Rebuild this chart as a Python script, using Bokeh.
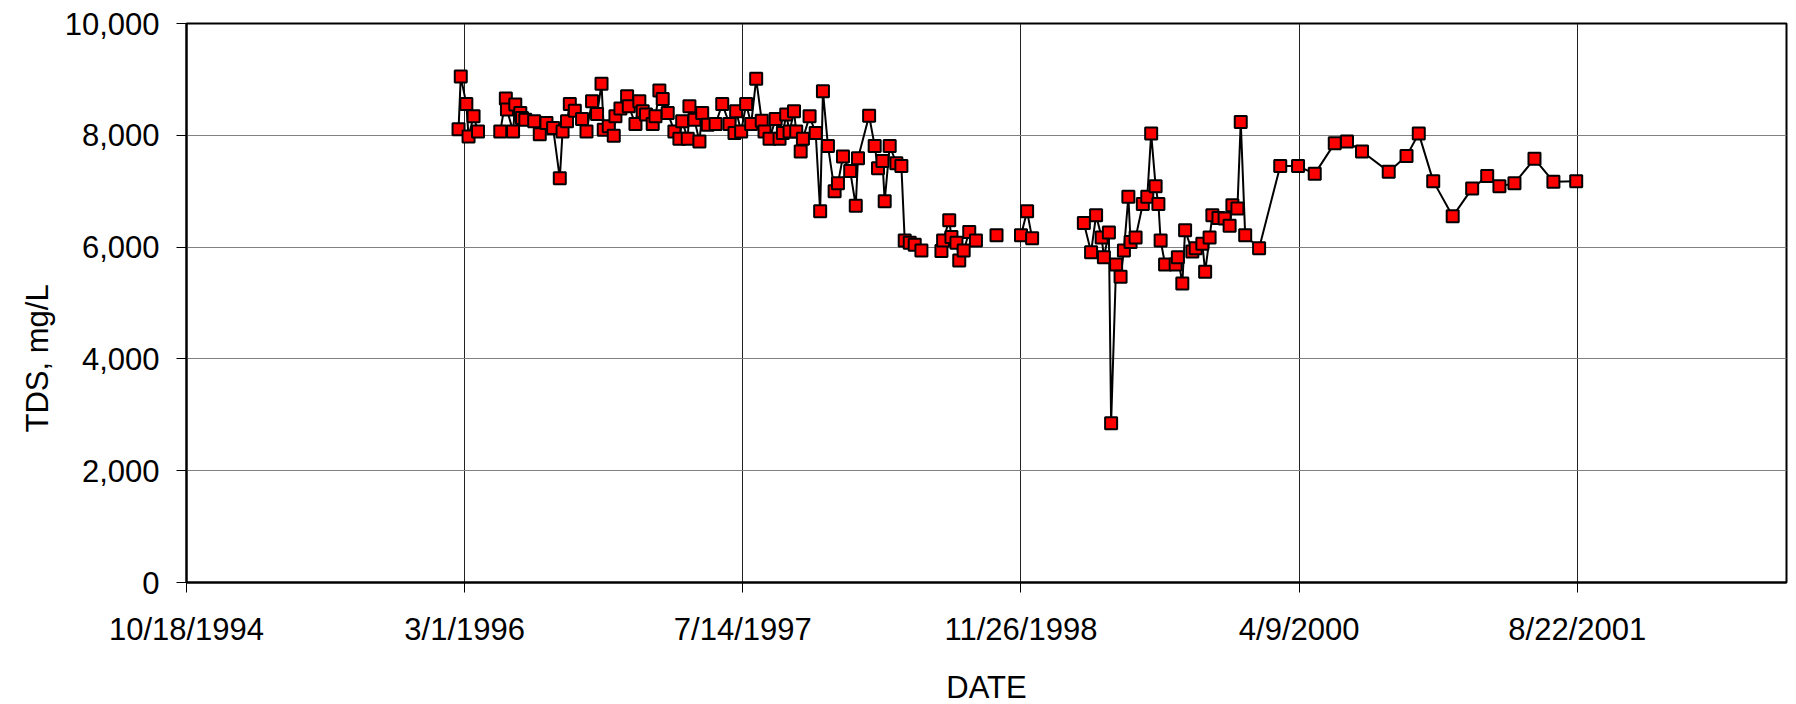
import pandas as pd
from bokeh.plotting import figure
from bokeh.models import Range1d, FixedTicker, NumeralTickFormatter, ColumnDataSource, Title
from bokeh.embed import file_html
from bokeh.resources import INLINE

NaN = float("nan")

# Sample dates (NaN entries mark breaks in the series)
dates = [
    "1996-02-19", "1996-02-23", "1996-03-04", "1996-03-08", "1996-03-17", "1996-03-25",
    "1996-04-15",
    "1996-05-04", "1996-05-14", "1996-05-16", "1996-05-27", "1996-05-31", "1996-06-09",
    "1996-06-12", "1996-06-18", "1996-07-04", "1996-07-14", "1996-07-26", "1996-08-07",
    "1996-08-19", "1996-08-24", "1996-09-01", "1996-09-06", "1996-09-15", "1996-09-28",
    "1996-10-06", "1996-10-16", "1996-10-25", "1996-11-02", "1996-11-06", "1996-11-15",
    "1996-11-24", "1996-11-27", "1996-12-06", "1996-12-18", "1996-12-21",
    "1997-01-02", "1997-01-09", "1997-01-15", "1997-01-21", "1997-02-02", "1997-02-07",
    "1997-02-14", "1997-02-20", "1997-03-01", "1997-03-13", "1997-03-22", "1997-03-27",
    "1997-04-06", "1997-04-09", "1997-04-18", "1997-04-27", "1997-05-02", "1997-05-12",
    "1997-05-26", "1997-06-07", "1997-06-20", "1997-06-29", "1997-07-02", "1997-07-11",
    "1997-07-20", "1997-07-29", "1997-08-07", "1997-08-17", "1997-08-22", "1997-08-31",
    "1997-09-11", "1997-09-18", "1997-09-24", "1997-09-30", "1997-10-06", "1997-10-14",
    "1997-10-18", "1997-10-26", "1997-10-30", "1997-11-11", "1997-11-22", "1997-11-30",
    "1997-12-05", "1997-12-14", "1997-12-26",
    "1998-01-01", "1998-01-10", "1998-01-23", "1998-02-02", "1998-02-06", "1998-02-26",
    "1998-03-08", "1998-03-14", "1998-03-22", "1998-03-26", "1998-04-04", "1998-04-16",
    "1998-04-25", "1998-05-01", "1998-05-10", "1998-05-19", "1998-05-31",
    "1998-06-18",
    "1998-07-06", "1998-07-09", "1998-07-20", "1998-07-24", "1998-08-02", "1998-08-07",
    "1998-08-15", "1998-08-25", "1998-09-06",
    "1998-09-25",
    "1998-10-13",
    "1998-11-01",
    "1998-11-26", "1998-12-07", "1998-12-16",
    "1999-02-01",
    "1999-03-19", "1999-04-01", "1999-04-10", "1999-04-20", "1999-04-24", "1999-05-03",
    "1999-05-07", "1999-05-16", "1999-05-24", "1999-05-30", "1999-06-07", "1999-06-11",
    "1999-06-20", "1999-07-03", "1999-07-11", "1999-07-18", "1999-07-26", "1999-07-31",
    "1999-08-04", "1999-08-12", "1999-08-31", "1999-09-04", "1999-09-12", "1999-09-17",
    "1999-09-30", "1999-10-06", "1999-10-18", "1999-10-23", "1999-10-31", "1999-11-05",
    "1999-11-16", "1999-11-27", "1999-12-06", "1999-12-11", "1999-12-20", "1999-12-26",
    "2000-01-03", "2000-01-28", "2000-03-06", "2000-04-07", "2000-05-07", "2000-06-12",
    "2000-07-04", "2000-07-31", "2000-09-17", "2000-10-19", "2000-11-10", "2000-12-06",
    "2001-01-10", "2001-02-14", "2001-03-13", "2001-04-04", "2001-05-01", "2001-06-06",
    "2001-07-10", "2001-08-20",
]

tds = [
    8110, 9050, 8560, 7980, 8340, 8070,
    NaN,
    8070, 8660, 8460, 8070, 8550, 8400,
    8310, 8280, 8250, 8020, 8220, 8130,
    7230, 8070, 8250, 8560, 8440, 8290,
    8070, 8610, 8380, 8920, 8100, 8160,
    7990, 8340, 8480, 8700, 8520,
    8200, 8610, 8430, 8370, 8200, 8340,
    8800, 8650, 8400, 8070, 7940, 8250,
    7940, 8520, 8280, 7890, 8400, 8190,
    8200, 8560, 8200, 8040, 8430, 8070,
    8560, 8200, 9010, 8260, 8070, 7940,
    8290, 7940, 8040, 8370, 8070, 8430,
    8070, 7710, 7940, 8340, 8040, 6640,
    8790, 7810, 7000,
    7140, 7620, 7360, 6740, 7590, 8350,
    7810, 7410, 7540, 6820, 7810, 7500,
    7450, 6120, 6080, 6040, 5940,
    NaN,
    5930, 6120, 6480, 6180, 6080, 5760,
    5940, 6270, 6120,
    NaN,
    6210,
    NaN,
    6210, 6640, 6160,
    NaN,
    6430, 5910, 6570, 6170, 5820, 6260,
    2850, 5690, 5470, 5940, 6900, 6090,
    6170, 6770, 6900, 8030, 7090, 6770,
    6120, 5690, 5690, 5820, 5350, 6300,
    5920, 5980, 6060, 5560, 6170, 6570,
    6520, 6510, 6380, 6750, 6690, 8240,
    6210, 5980, 7450, 7450, 7310, 7860,
    7890, 7710, 7350, 7630, 8030, 7180,
    6550, 7050, 7270, 7090, 7140, 7580,
    7170, 7180,
]

x_tick_labels = ["10/18/1994", "3/1/1996", "7/14/1997", "11/26/1998", "4/9/2000", "8/22/2001"]
x_end_date = "2002-09-02"
y_ticks = [0, 2000, 4000, 6000, 8000, 10000]

EPOCH = pd.Timestamp("1899-12-30")


def serial(ts):
    return float((pd.Timestamp(ts) - EPOCH).days)


xs = [serial(d) for d in dates]
tick_vals = [serial(pd.to_datetime(t, format="%m/%d/%Y")) for t in x_tick_labels]

src = ColumnDataSource(dict(x=xs, y=tds))

FONT = "Liberation Sans"
FS = "31px"

p = figure(
    frame_width=1600, frame_height=559,
    min_border_left=186, min_border_right=2, min_border_top=23, min_border_bottom=120,
    x_range=Range1d(tick_vals[0], serial(x_end_date)),
    y_range=Range1d(0, 10000),
    output_backend="svg", toolbar_location=None,
    background_fill_color="white", border_fill_color="white",
)

p.line("x", "y", source=src, line_color="black", line_width=2)
p.scatter("x", "y", source=src, marker="square", size=12,
          fill_color="#FF0000", line_color="black", line_width=2)

p.outline_line_color = "black"
p.outline_line_width = 2

# axes
xa = p.xaxis[0]
xa.ticker = FixedTicker(ticks=tick_vals)
xa.major_label_overrides = {v: lab for v, lab in zip(tick_vals, x_tick_labels)}
xa.axis_label = "DATE"

ya = p.yaxis[0]
ya.ticker = FixedTicker(ticks=y_ticks)
ya.formatter = NumeralTickFormatter(format="0,0")

for ax in (xa, ya):
    ax.axis_line_color = "black"
    ax.axis_line_width = 2
    ax.major_tick_line_color = "black"
    ax.major_tick_line_width = 1
    ax.major_tick_in = 0
    ax.major_tick_out = 10
    ax.minor_tick_line_color = None
    ax.major_label_text_font = FONT
    ax.major_label_text_font_size = FS
    ax.major_label_text_color = "black"
    ax.axis_label_text_font = FONT
    ax.axis_label_text_font_size = FS
    ax.axis_label_text_font_style = "normal"
    ax.axis_label_text_color = "black"

xa.major_label_standoff = 19
xa.axis_label_standoff = 20
ya.major_label_standoff = 17

# y-axis title (placed lower than the frame centre, as in the reference)
ytitle = Title(text="TDS, mg/L", align="left", offset=150, standoff=14,
               text_font=FONT, text_font_size=FS, text_font_style="normal",
               text_color="black")
p.add_layout(ytitle, "left")

p.xgrid.ticker = FixedTicker(ticks=tick_vals)
p.xgrid.grid_line_color = "#222222"
p.xgrid.grid_line_width = 1
p.ygrid.ticker = FixedTicker(ticks=y_ticks)
p.ygrid.grid_line_color = "#808080"
p.ygrid.grid_line_width = 1

open("out.html", "w").write(file_html(p, INLINE))
